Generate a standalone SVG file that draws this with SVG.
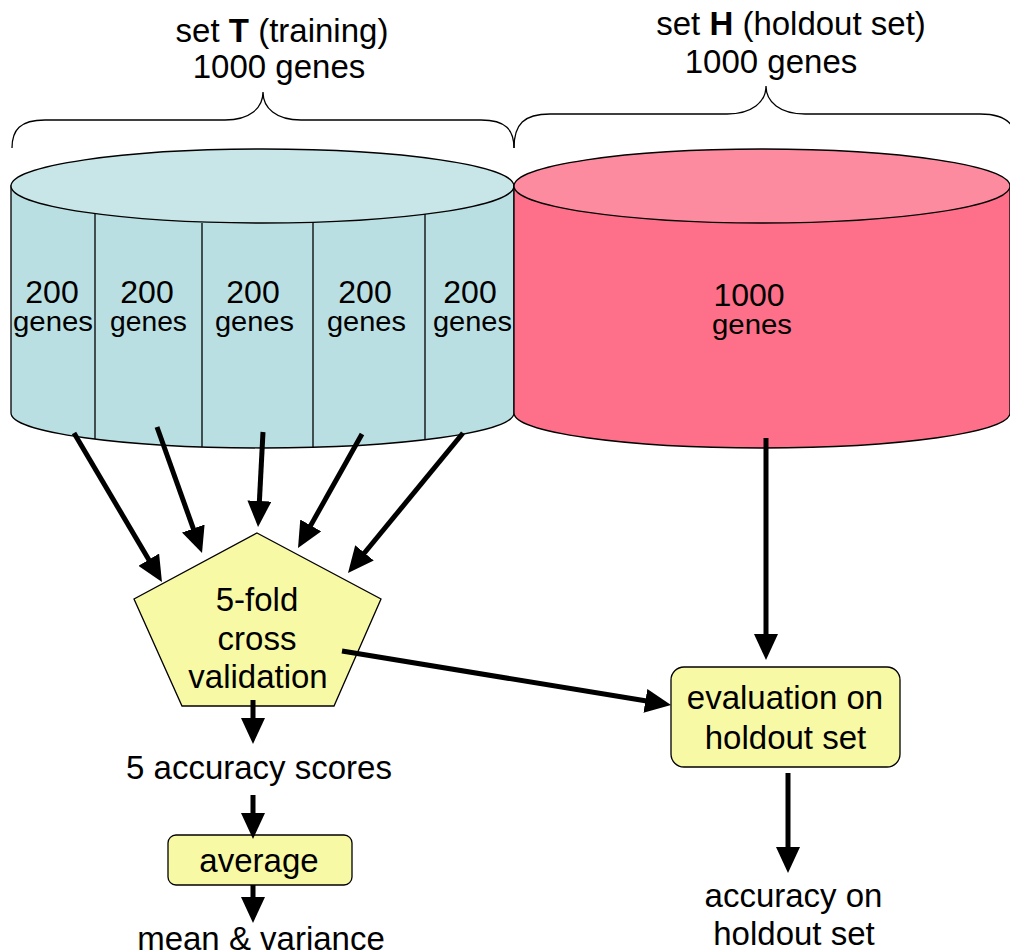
<svg xmlns="http://www.w3.org/2000/svg" width="1010" height="951" viewBox="0 0 1010 951">
<defs>
<marker id="ah" markerUnits="userSpaceOnUse" markerWidth="26" markerHeight="24" refX="6" refY="12" orient="auto">
<path d="M0,0 L26,12 L0,24 Z" fill="#000"/>
</marker>
<style>
.t{font-family:"Liberation Sans",Arial,sans-serif;fill:#000;text-anchor:middle}
.big{font-size:33px}
.lab{font-size:32px}
.ar{stroke:#000;stroke-width:5;fill:none;marker-end:url(#ah)}
.br{stroke:#000;stroke-width:1.3;fill:none}
.ol{stroke:#000;stroke-width:1.3}
.yl{fill:#f8f9a4;stroke:#000;stroke-width:1.3}
</style>
</defs>
<rect width="1010" height="951" fill="#fff"/>

<g id="labelT">
<text class="t big" x="282" y="42">set <tspan font-weight="bold">T</tspan> (training)</text>
<text class="t big" x="279" y="78">1000 genes</text>
<path class="br" d="M12,148 C12,130 20,120 45,120 L225,120 C250,120 263,108 263,92 C263,108 276,120 301,120 L481,120 C506,120 514,130 514,148"/>
</g>

<g id="labelH">
<text class="t big" x="791" y="35">set <tspan font-weight="bold">H</tspan> (holdout set)</text>
<text class="t big" x="771" y="73">1000 genes</text>
<path class="br" d="M514,148 C514,124 524,114 550,114 L727,114 C752,114 766,102 766,86 C766,102 780,114 805,114 L980,114 C1000,114 1008,120 1012,126"/>
</g>

<g id="setT">
<path class="ol" fill="#b9dfe2" d="M11,186 L11,413 A251.5,35 0 0 0 514,413 L514,186 Z"/>
<ellipse class="ol" cx="262.5" cy="186" rx="251.5" ry="37" fill="#c8e6e8"/>
<g stroke="#000" stroke-width="1.3">
<line x1="95" y1="213.5" x2="95" y2="439"/>
<line x1="202" y1="223" x2="202" y2="447"/>
<line x1="313" y1="223" x2="313" y2="447"/>
<line x1="425" y1="214" x2="425" y2="440"/>
</g>
<g class="t">
<text class="lab" x="52" y="303">200</text>
<text class="lab" x="147" y="303">200</text>
<text class="lab" x="253" y="303">200</text>
<text class="lab" x="365" y="303">200</text>
<text class="lab" x="470" y="303">200</text>
<text font-size="28" x="53" y="331" textLength="80" lengthAdjust="spacingAndGlyphs">genes</text>
<text font-size="28" x="148.5" y="331" textLength="77" lengthAdjust="spacingAndGlyphs">genes</text>
<text font-size="28" x="254.5" y="331" textLength="79" lengthAdjust="spacingAndGlyphs">genes</text>
<text font-size="28" x="366.5" y="331" textLength="79" lengthAdjust="spacingAndGlyphs">genes</text>
<text font-size="28" x="472.5" y="331" textLength="79" lengthAdjust="spacingAndGlyphs">genes</text>
</g>
</g>

<g id="setH">
<path class="ol" fill="#fe7089" d="M514,186 L514,413 A248,35 0 0 0 1010,413 L1010,186 Z"/>
<ellipse class="ol" cx="762" cy="186" rx="248" ry="37" fill="#fd8ba0"/>
<text class="t lab" x="749" y="306">1000</text>
<text class="t" font-size="28" x="752" y="334" textLength="80" lengthAdjust="spacingAndGlyphs">genes</text>
</g>

<g id="cv">
<polygon class="yl" points="257,533 381,599 334,706 182,706 134,599"/>
<text class="t big" x="257" y="611">5-fold</text>
<text class="t big" x="257" y="650">cross</text>
<text class="t big" x="258" y="688">validation</text>
</g>

<g id="eval">
<rect class="yl" x="671" y="667" width="229" height="100" rx="13"/>
<text class="t big" x="785" y="709">evaluation on</text>
<text class="t big" x="785.5" y="749">holdout set</text>
</g>

<g id="scores">
<text class="t big" x="259" y="779">5 accuracy scores</text>
</g>

<g id="avg">
<rect class="yl" x="168" y="835" width="184" height="50" rx="8"/>
<text class="t big" x="259" y="872">average</text>
</g>

<g id="meanvar">
<text class="t big" x="261" y="950">mean &amp; variance</text>
</g>

<g id="accH">
<text class="t big" x="793.5" y="907">accuracy on</text>
<text class="t big" x="794" y="945">holdout set</text>
</g>

<g id="connectors">
<line class="ar" x1="74" y1="433" x2="151.8" y2="564.8"/>
<line class="ar" x1="157" y1="427" x2="195.3" y2="534.2"/>
<line class="ar" x1="263" y1="432" x2="259.1" y2="507"/>
<line class="ar" x1="362" y1="434" x2="307.8" y2="530.6"/>
<line class="ar" x1="463" y1="433" x2="360.7" y2="557.5"/>
<line class="ar" x1="766" y1="438" x2="766" y2="640"/>
<line class="ar" x1="342" y1="651" x2="651.3" y2="701.8"/>
<line class="ar" x1="253" y1="700" x2="253" y2="724"/>
<line class="ar" x1="253" y1="795" x2="253" y2="819"/>
<line class="ar" x1="253" y1="885" x2="253" y2="903"/>
<line class="ar" x1="788" y1="773" x2="788" y2="853"/>
</g>
</svg>
